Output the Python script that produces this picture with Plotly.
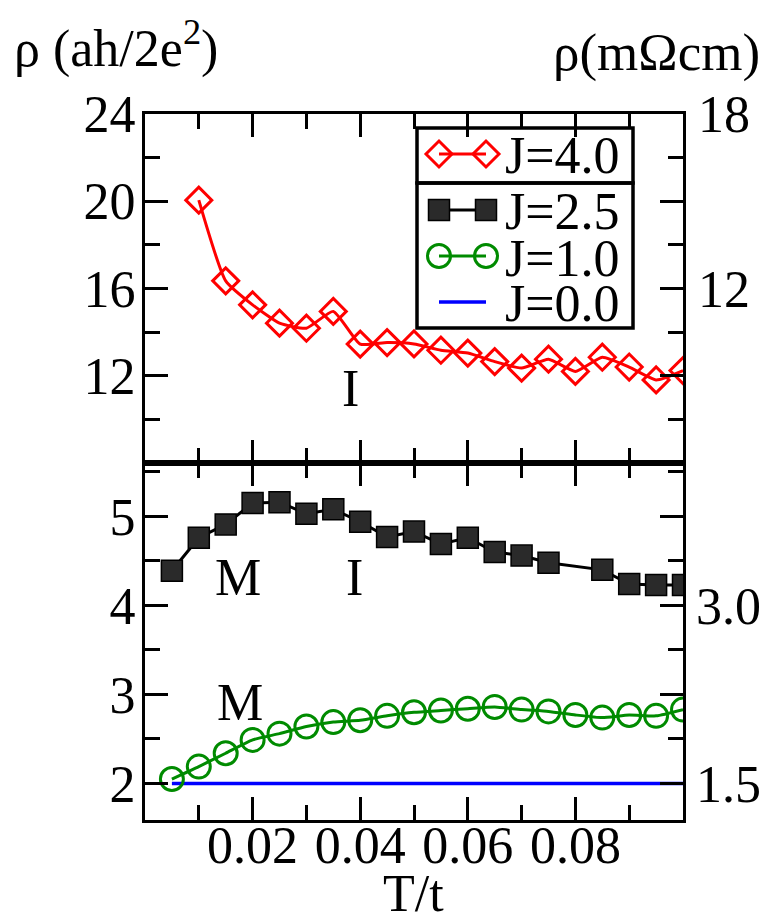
import plotly.graph_objects as go

FONT = "Liberation Serif, Times New Roman, serif"
W, H = 770, 912

# ---- data -----------------------------------------------------------------
# J = 4.0, upper panel (rho in units of ah/2e^2)
t_j40 = [0.010, 0.015, 0.020, 0.025, 0.030, 0.035, 0.040, 0.045, 0.050, 0.055,
         0.060, 0.065, 0.070, 0.075, 0.080, 0.085, 0.090, 0.095, 0.100]
rho_j40 = [20.05, 16.35, 15.25, 14.41, 14.18, 14.95, 13.45, 13.52, 13.46, 13.17,
           13.04, 12.65, 12.35, 12.76, 12.20, 12.85, 12.40, 11.81, 12.24]

# J = 2.5, lower panel
t_j25 = [0.005, 0.010, 0.015, 0.020, 0.025, 0.030, 0.035, 0.040, 0.045, 0.050,
         0.055, 0.060, 0.065, 0.070, 0.075, 0.085, 0.090, 0.095, 0.100]
rho_j25 = [4.39, 4.76, 4.91, 5.15, 5.16, 5.03, 5.08, 4.94, 4.77, 4.83,
           4.69, 4.76, 4.60, 4.56, 4.48, 4.40, 4.24, 4.23, 4.23]

# J = 1.0, lower panel
t_j10 = [0.005, 0.010, 0.015, 0.020, 0.025, 0.030, 0.035, 0.040, 0.045, 0.050,
         0.055, 0.060, 0.065, 0.070, 0.075, 0.080, 0.085, 0.090, 0.095, 0.100]
rho_j10 = [2.05, 2.19, 2.34, 2.49, 2.56, 2.64, 2.69, 2.71, 2.76, 2.80,
           2.82, 2.84, 2.86, 2.83, 2.81, 2.77, 2.74, 2.77, 2.76, 2.83]

# J = 0.0, lower panel
t_j00 = [0.005, 0.100]
rho_j00 = [2.0, 2.0]

# axis ticks
x_ticks = [0.02, 0.04, 0.06, 0.08]
x_ticktext = ["0.02", "0.04", "0.06", "0.08"]
top_left_ticks = [12, 16, 20, 24]
top_right_ticks = [12, 18]
bot_left_ticks = [2, 3, 4, 5]
bot_right_ticks = [1.5, 3.0]
bot_right_text = ["1.5", "3.0"]
OHM_SCALE = 0.75  # m-Ohm cm per (ah/2e^2)

# ---- styles ---------------------------------------------------------------
RED, BLACK, GREEN, BLUE = "#ff0000", "#000000", "#008b00", "#0000ff"
sty_j40 = dict(mode="lines+markers",
               line=dict(color=RED, width=3, shape="spline", smoothing=0.5),
               marker=dict(symbol="diamond-open", size=20, color=RED,
                           line=dict(color=RED, width=3)))
sty_j25 = dict(mode="lines+markers",
               line=dict(color=BLACK, width=3),
               marker=dict(symbol="square", size=21, color="#2a2a2a",
                           line=dict(color=BLACK, width=1.5)))
sty_j10 = dict(mode="lines+markers",
               line=dict(color=GREEN, width=3, shape="spline", smoothing=0.5),
               marker=dict(symbol="circle-open", size=23, color=GREEN,
                           line=dict(color=GREEN, width=3)))
sty_j00 = dict(mode="lines", line=dict(color=BLUE, width=3.5))

fig = go.Figure()
fig.add_trace(go.Scatter(x=t_j40, y=rho_j40, xaxis="x2", yaxis="y2", **sty_j40))
fig.add_trace(go.Scatter(x=t_j00, y=rho_j00, xaxis="x", yaxis="y", **sty_j00))
fig.add_trace(go.Scatter(x=t_j10, y=rho_j10, xaxis="x", yaxis="y", **sty_j10))
fig.add_trace(go.Scatter(x=t_j25, y=rho_j25, xaxis="x", yaxis="y", **sty_j25))

# same curves in m-Ohm cm on the right-hand scales (kept transparent)
fig.add_trace(go.Scatter(x=t_j25, y=[v * OHM_SCALE for v in rho_j25],
                         xaxis="x", yaxis="y3", mode="lines", opacity=0,
                         hoverinfo="skip"))
fig.add_trace(go.Scatter(x=t_j40, y=[v * OHM_SCALE for v in rho_j40],
                         xaxis="x2", yaxis="y4", mode="lines", opacity=0,
                         hoverinfo="skip"))

# ---- legend keys drawn in a full-page pixel frame -------------------------
KEY_X = [439, 486]
legend_rows = [("J=4.0", sty_j40, 154), ("J=2.5", sty_j25, 210),
               ("J=1.0", sty_j10, 256), ("J=0.0", sty_j00, 302)]
for label, sty, yrow in legend_rows:
    s = dict(sty)
    s["line"] = dict(color=s["line"]["color"], width=s["line"]["width"])
    fig.add_trace(go.Scatter(x=KEY_X, y=[yrow, yrow], xaxis="x5", yaxis="y5",
                             hoverinfo="skip", **s))

# ---- axes -----------------------------------------------------------------
tickfont = dict(family=FONT, size=52, color="black")
XDOM = [145 / W, 683 / W]
TOP_DOM = [1 - 463 / H, 1 - 114 / H]
BOT_DOM = [1 - 820 / H, 1 - 463 / H]


def frame_axis(**kw):
    d = dict(showline=True, linecolor="black", linewidth=3, mirror="ticks",
             ticks="inside", ticklen=23, tickwidth=3, tickcolor="black",
             showgrid=False, zeroline=False, tickfont=tickfont,
             tickmode="array", automargin=False)
    d.update(kw)
    return d


def plain_axis(**kw):
    d = dict(showgrid=False, zeroline=False, showline=False, ticks="",
             automargin=False, tickfont=tickfont)
    d.update(kw)
    return d


x_minor = dict(tickmode="linear", tick0=0, dtick=0.01, ticks="inside",
               ticklen=15, tickwidth=3, tickcolor="black")

bot_range = [1.59, 5.6]
top_range = [8, 24]

fig.update_layout(
    template="none",
    width=W, height=H,
    margin=dict(l=0, r=0, t=0, b=0, pad=0),
    paper_bgcolor="white", plot_bgcolor="rgba(0,0,0,0)",
    showlegend=False,
    font=dict(family=FONT, size=52, color="black"),
    xaxis=frame_axis(domain=XDOM, anchor="y", range=[0, 0.1],
                     tickvals=x_ticks, ticktext=x_ticktext, minor=x_minor,
                     ticklabelstandoff=-22),
    xaxis2=frame_axis(domain=XDOM, anchor="y2", range=[0, 0.1],
                      tickvals=x_ticks, showticklabels=False, minor=x_minor),
    yaxis=frame_axis(domain=BOT_DOM, anchor="x", range=bot_range,
                     tickvals=bot_left_ticks, ticklabelstandoff=-4,
                     minor=dict(tickmode="linear", tick0=0, dtick=0.5,
                                ticks="inside", ticklen=15, tickwidth=3,
                                tickcolor="black")),
    yaxis2=frame_axis(domain=TOP_DOM, anchor="x2", range=top_range,
                      tickvals=top_left_ticks, ticklabelstandoff=-4,
                      minor=dict(tickmode="linear", tick0=0, dtick=2,
                                 ticks="inside", ticklen=15, tickwidth=3,
                                 tickcolor="black")),
    # right-hand resistivity scales in m-Ohm cm
    yaxis3=plain_axis(overlaying="y", anchor="x", side="right",
                      range=[v * OHM_SCALE for v in bot_range],
                      tickmode="array", tickvals=bot_right_ticks,
                      ticktext=bot_right_text, ticklabelstandoff=12),
    yaxis4=plain_axis(overlaying="y2", anchor="x2", side="right",
                      range=[v * OHM_SCALE for v in top_range],
                      tickmode="array", tickvals=top_right_ticks,
                      ticklabelstandoff=14),
    # pixel frame for the legend keys
    xaxis5=dict(domain=[0, 1], anchor="y5", range=[0, W], visible=False,
                fixedrange=True, automargin=False),
    yaxis5=dict(domain=[0, 1], anchor="x5", range=[H, 0], visible=False,
                fixedrange=True, automargin=False),
)

# legend boxes
for y0, y1 in [(128, 183), (183, 328)]:
    fig.add_shape(type="rect", xref="paper", yref="paper",
                  x0=417 / W, x1=633 / W, y0=1 - y0 / H, y1=1 - y1 / H,
                  line=dict(color="black", width=3.5), layer="above")

annotations = []
for label, _, yrow in legend_rows:
    annotations.append(dict(text=label, xref="paper", yref="paper",
                            x=503 / W, y=1 - (yrow + 2) / H, xanchor="left",
                            yanchor="middle", showarrow=False,
                            font=dict(family=FONT, size=52)))

# regime labels
for txt, x, y, xr, yr in [("I", 0.0382, 11.42, "x2", "y2"),
                          ("M", 0.0173, 4.31, "x", "y"),
                          ("I", 0.0390, 4.31, "x", "y"),
                          ("M", 0.0177, 2.915, "x", "y")]:
    annotations.append(dict(text=txt, x=x, y=y, xref=xr, yref=yr,
                            showarrow=False, xanchor="center",
                            yanchor="middle",
                            font=dict(family=FONT, size=52)))

# axis titles
annotations += [
    dict(text="ρ (ah/2e<sup>2</sup>)", xref="paper", yref="paper",
         x=12 / W, y=1 - 45 / H, xanchor="left", yanchor="middle",
         showarrow=False, font=dict(family=FONT, size=52)),
    dict(text="ρ(mΩcm)", xref="paper", yref="paper",
         x=762 / W, y=1 - 53 / H, xanchor="right", yanchor="middle",
         showarrow=False, font=dict(family=FONT, size=53)),
    dict(text="T/t", xref="paper", yref="paper",
         x=413 / W, y=1 - 893 / H, xanchor="center", yanchor="middle",
         showarrow=False, font=dict(family=FONT, size=52)),
]
fig.update_layout(annotations=annotations)

fig.write_html("out.html")
